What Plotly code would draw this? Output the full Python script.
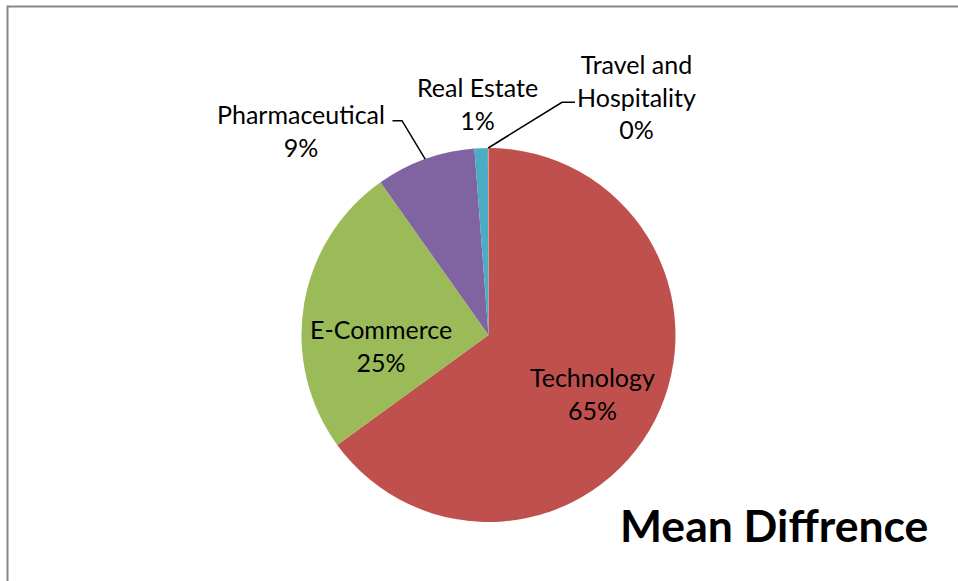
import math
import plotly.graph_objects as go

W, H = 958, 581

# Mean difference by sector
sectors = ["Technology", "E-Commerce", "Pharmaceutical", "Real Estate", "Travel and Hospitality"]
mean_diff = [65.0, 25.2, 8.6, 1.15, 0.05]
colors = ["#C0504D", "#9BBB59", "#8064A2", "#4BACC6", "#F79646"]

total = sum(mean_diff)
pct = [round(v / total * 100) for v in mean_diff]

# pie placement (pixels)
CX, CY, R = 488.5, 335.0, 187.0


def px(x, y):
    return x / W, 1 - y / H


fig = go.Figure(go.Pie(
    labels=sectors,
    values=mean_diff,
    sort=False,
    direction="clockwise",
    rotation=0,
    marker=dict(colors=colors, line=dict(width=0)),
    textinfo="none",
    hoverinfo="label+percent",
    domain=dict(x=[(CX - R) / W, (CX + R) / W], y=[1 - (CY + R) / H, 1 - (CY - R) / H]),
))


def slice_mid(i):
    """Point on the pie rim at the middle angle of slice i."""
    start = sum(mean_diff[:i]) / total * 360
    mid = start + mean_diff[i] / total * 360 / 2
    a = math.radians(mid)
    return CX + R * math.sin(a), CY - R * math.cos(a)


FONT = dict(family="Lato, Calibri, sans-serif", size=25, color="#000000")

# label text positions (pixels) for each sector
label_pos = {
    "Technology": (592, 393),
    "E-Commerce": (381, 345),
    "Pharmaceutical": (301, 130),
    "Real Estate": (477, 104),
    "Travel and Hospitality": (636, 96),
}
display = {
    "Travel and Hospitality": "Travel and<br>Hospitality",
}

annotations = []
for s, p in zip(sectors, pct):
    x, y = label_pos[s]
    xp, yp = px(x, y)
    annotations.append(dict(
        x=xp, y=yp, xref="paper", yref="paper",
        text=f"{display.get(s, s)}<br>{p}%",
        showarrow=False, xanchor="center", yanchor="middle",
        font=FONT, align="center",
    ))

# chart title
tx, ty = px(774, 524)
annotations.append(dict(
    x=tx, y=ty, xref="paper", yref="paper", text="<b>Mean Diffrence</b>",
    showarrow=False, xanchor="center", yanchor="middle",
    font=dict(family="Lato, Calibri, sans-serif", size=44.5, color="#000000"),
))

shapes = []
# leader lines: label elbow -> slice rim
leaders = {
    "Pharmaceutical": [(392.5, 120.7), (402, 120.7)],
    "Travel and Hospitality": [(575, 102.3), (562, 102.3)],
}
for s, pts in leaders.items():
    rx, ry = slice_mid(sectors.index(s))
    path_pts = pts + [(rx, ry)]
    d = ""
    for k, (x, y) in enumerate(path_pts):
        xp, yp = px(x, y)
        d += ("M" if k == 0 else "L") + f"{xp},{yp} "
    shapes.append(dict(type="path", xref="paper", yref="paper", path=d.strip(),
                       line=dict(color="#000000", width=1.5)))

# chart area border (left and top edges visible)
shapes.append(dict(type="path", xref="paper", yref="paper",
                   path=f"M{7.5 / W},{-0.05} L{7.5 / W},{1 - 6.5 / H} L{1.05},{1 - 6.5 / H}",
                   line=dict(color="#878787", width=2)))

fig.update_layout(
    width=W, height=H,
    margin=dict(l=0, r=0, t=0, b=0),
    paper_bgcolor="#FFFFFF",
    plot_bgcolor="#FFFFFF",
    showlegend=False,
    annotations=annotations,
    shapes=shapes,
)

fig.write_html("out.html")
